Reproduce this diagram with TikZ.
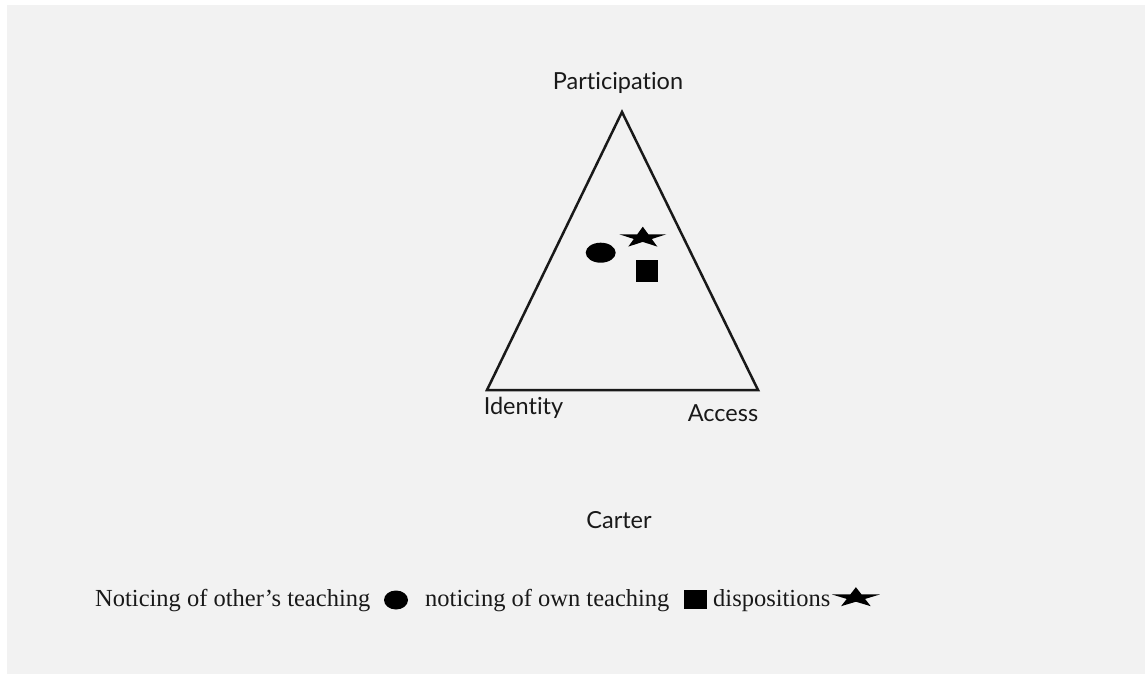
\documentclass[tikz,border=0pt]{standalone}
\usepackage{fontspec}
\setmainfont{Liberation Serif}
\newfontfamily\labelfont[Ligatures={NoCommon,NoRare,NoContextual}]{Lato}
\definecolor{bg}{RGB}{242,242,242}
\definecolor{ink}{RGB}{25,25,25}
\begin{document}
\begin{tikzpicture}[x=1pt,y=-1pt,
  lbl/.style={font=\labelfont\fontsize{23.5}{26}\selectfont, text=ink, inner sep=0},
  leg/.style={font=\fontsize{24.5}{28}\selectfont, text=ink, inner sep=0, anchor=base west},
  symb/.style={fill=black}]
\fill[white] (0,0) rectangle (1145,674);
\fill[bg] (7,5) rectangle (1145,674);
\useasboundingbox (0,0) rectangle (1145,674);
% triangle
\coordinate (P) at (622,112);
\coordinate (I) at (487,390);
\coordinate (A) at (758,390);
\draw[line width=2.5pt, line join=miter, draw=ink] (P) -- (I) -- (A) -- cycle;
\node[lbl] (participation) at (618,83) {Participation};
\node[lbl] (identity) at (523.5,408) {Identity};
\node[lbl] (access) at (723,413) {Access};
\node[lbl] (carter) at (619,520) {Carter};
% markers in triangle
\fill[symb] (600.7,252.7) ellipse [x radius=15, y radius=10];
\fill[symb] (635.7,260) rectangle (657.7,282);
\begin{scope}[shift={(642.8,237.7)}]
  \fill[symb, x=24.7pt, y=11pt] (90:1) -- (126:0.382) -- (162:1) -- (198:0.382) -- (234:1) -- (270:0.382) -- (306:1) -- (342:0.382) -- (18:1) -- (54:0.382) -- cycle;
\end{scope}
% legend
\node[leg] (l1) at (95,606.7) {Noticing of other’s teaching};
\fill[symb] (396,600) ellipse [x radius=12, y radius=9.5];
\node[leg] (l2) at (425,606.7) {noticing of own teaching};
\fill[symb] (683.5,590) rectangle (706.5,609);
\node[leg] (l3) at (713,606.7) {dispositions};
\begin{scope}[shift={(855.9,597.7)}]
  \fill[symb, x=25.2pt, y=10.5pt] (90:1) -- (126:0.382) -- (162:1) -- (198:0.382) -- (234:1) -- (270:0.382) -- (306:1) -- (342:0.382) -- (18:1) -- (54:0.382) -- cycle;
\end{scope}
\end{tikzpicture}
\end{document}
